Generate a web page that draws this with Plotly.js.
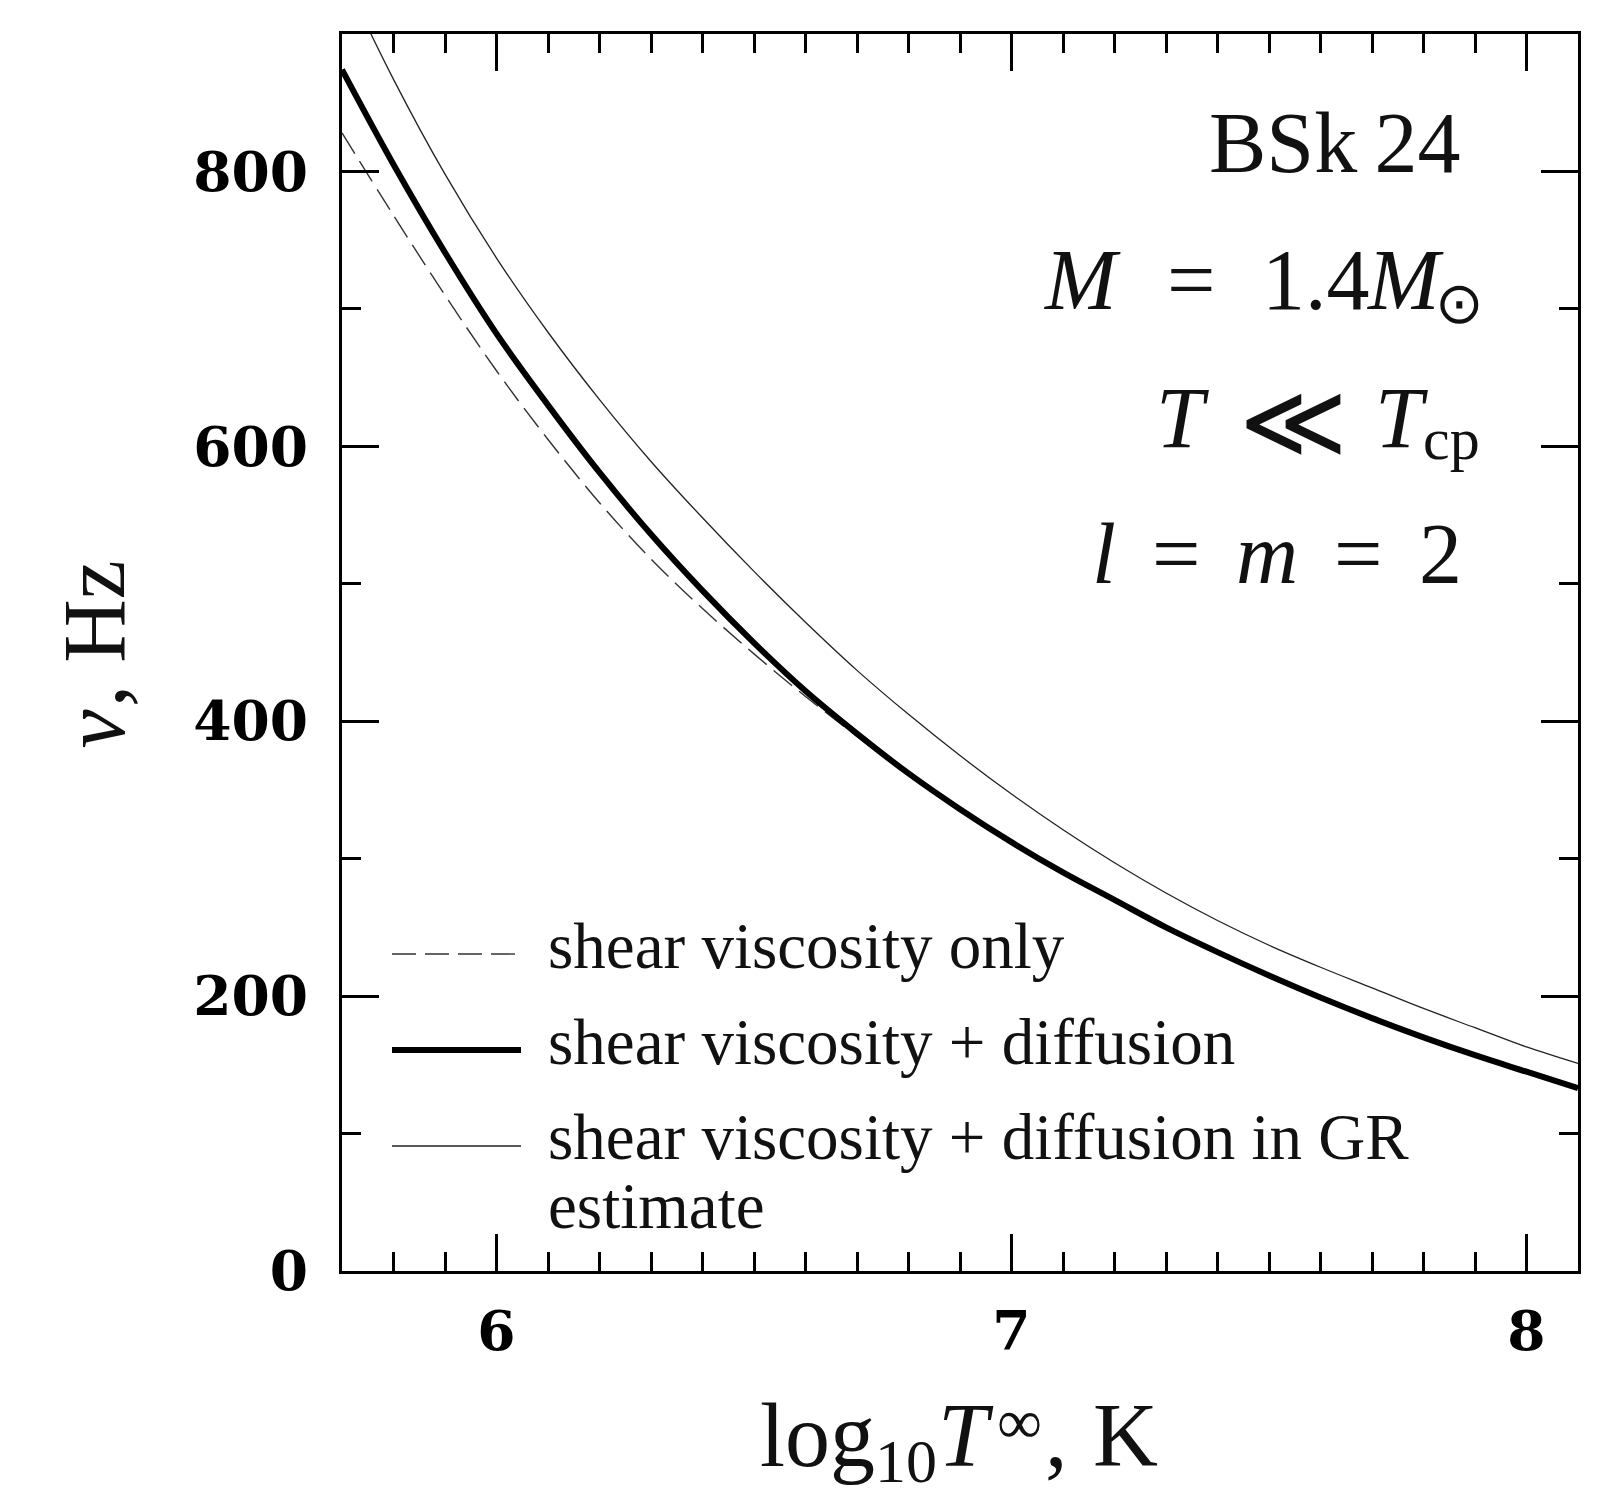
<!DOCTYPE html>
<html><head><meta charset="utf-8">
<script src="https://cdn.plot.ly/plotly-3.0.1.min.js"></script>
<style>body{margin:0;background:#fff}#chart{width:1603px;height:1494px}</style>
</head><body><div id="chart"></div>
<script>
// ---- data ----
const logT = [5.7,5.8,5.9,6.0,6.1,6.2,6.3,6.4,6.5,6.6,6.7,6.8,6.9,7.0,7.1,7.2,7.3,7.4,7.5,7.6,7.7,7.8,7.9,8.0,8.1];
const nuShearOnly = [828,768,710,655,605,559,518,482,449,418,389,361,336,312,290,270,250,232,215,199,184,170,157,145,133];
const nuShearDiff = [874,805,741,682,630,581,536,495,457,422,391,362,336,312,290,270,250,232,215,199,184,170,157,145,133];
const nuShearDiffGR = [944,867,798,737,683,634,589,548,509,472,437,405,375,347,321,297,275,255,237,221,206,191,177,163,151];
const seriesNames = ['shear viscosity only','shear viscosity + diffusion','shear viscosity + diffusion in GR<br>estimate'];
const xTickVals = [6,7,8];
const xTickText = ['6','7','8'];
const yTickVals = [0,200,400,600,800];
const yTickText = ['0','200','400','600','800'];
// text pieces (math written as runs of roman / italic / sub / sup)
const infoTitle = 'BSk\u200924';
const lineM = ['M','=','1.4','M','⊙'];
const lineT = ['T','≪','T','cp'];
const lineL = ['l','=','m','=','2'];
const xTitle = ['log','10','T','∞',',','K'];
const yTitle = ['ν',',','Hz'];

// ---- geometry helpers (pixel -> paper) ----
const L=342, R=1578, T=34, B=1271;
const px = v => (v-L)/(R-L);
const py = v => (B-v)/(B-T);
const serif = 'Liberation Serif, Times New Roman, serif';
const ink = '#111';
const K = 0.3375; // box centre above baseline, in em

const cvs = document.createElement('canvas').getContext('2d');
function textW(t, size, italic){
  cvs.font = (italic?'italic ':'') + size + 'px "Liberation Serif", serif';
  return cvs.measureText(t).width;
}
const annotations = [];
// pieces placed horizontally; fmt: {it, s, dy, g}
function runH(texts, fmts, anchorX, align, baseline){
  const ws = texts.map((t,i)=>textW(t, fmts[i].s, fmts[i].it));
  const total = ws.reduce((a,w,i)=>a+w+(fmts[i].g||0), 0);
  let x = align==='right' ? anchorX-total : anchorX-total/2;
  texts.forEach((t,i)=>{
    const f = fmts[i];
    x += (f.g||0);
    const cx = x + ws[i]/2;
    const cy = baseline + (f.dy||0) - K*f.s;
    annotations.push({xref:'paper', yref:'paper', x:px(cx), y:py(cy), xanchor:'center', yanchor:'middle',
      text:t, showarrow:false, borderpad:0, borderwidth:0,
      font:{family:serif, size:f.s, color:ink, style:f.it?'italic':'normal'}});
    x += ws[i];
  });
}
// pieces placed vertically (text rotated -90), running upward from the centre
function runV(texts, fmts, baselineX, centerY){
  const ws = texts.map((t,i)=>textW(t, fmts[i].s, fmts[i].it));
  const total = ws.reduce((a,w,i)=>a+w+(fmts[i].g||0), 0);
  let y = centerY + total/2;
  texts.forEach((t,i)=>{
    const f = fmts[i];
    y -= (f.g||0);
    const cy = y - ws[i]/2;
    const cx = baselineX - K*f.s;
    annotations.push({xref:'paper', yref:'paper', x:px(cx), y:py(cy), xanchor:'center', yanchor:'middle',
      text:t, showarrow:false, borderpad:0, borderwidth:0, textangle:-90,
      font:{family:serif, size:f.s, color:ink, style:f.it?'italic':'normal'}});
    y -= ws[i];
  });
}

const styles = [
  {color:'#333', width:1.4, dash:'24px,9px'},
  {color:'#000', width:6, dash:'solid'},
  {color:'#222', width:1.3, dash:'solid'}
];
const ys = [nuShearOnly, nuShearDiff, nuShearDiffGR];
const traces = ys.map((y,i)=>({
  type:'scatter', mode:'lines', x:logT, y:y, name:seriesNames[i].replace('<br>',' '),
  line:{color:styles[i].color, width:styles[i].width, dash:styles[i].dash, shape:'spline', smoothing:1},
  showlegend:false, hoverinfo:'skip'
}));

// legend drawn inside plot area
const legY = [954, 1050, 1146];
const legTextY = [946, 1042, 1137];
const shapes = [];
legY.forEach((yy,i)=>{
  shapes.push({type:'line', xref:'paper', yref:'paper', x0:px(392), x1:px(521), y0:py(yy), y1:py(yy),
    line:{color:styles[i].color, width:styles[i].width, dash:styles[i].dash}});
});
seriesNames.forEach((s,i)=>{
  s.split('<br>').forEach((p,j)=>{
    annotations.push({xref:'paper', yref:'paper', x:px(546), y:py(legTextY[i]+j*69), xanchor:'left', yanchor:'middle',
      text:p, showarrow:false, font:{family:serif, size:65, color:ink}});
  });
});

// info block (top right)
const S = 86;
annotations.push({xref:'paper', yref:'paper', x:px(1462), y:py(172-K*S), xanchor:'right', yanchor:'middle',
  text:infoTitle, showarrow:false, font:{family:serif, size:S, color:ink}});
runH(lineM, [{it:1,s:S},{s:S,g:50},{s:S,g:46},{it:1,s:S,g:0},{s:58,g:-6,dy:14}], 1484, 'right', 309);
runH(lineT, [{it:1,s:S},{s:104,g:32,dy:10},{it:1,s:S,g:30},{s:60,g:-2,dy:12}], 1480, 'right', 447);
runH(lineL, [{it:1,s:S},{s:S,g:36},{it:1,s:S,g:36},{s:S,g:36},{s:S,g:36}], 1462, 'right', 583);

// axis titles
runH(xTitle, [{s:90},{s:62,dy:16},{it:1,s:90,g:4},{s:63,g:6,dy:-23},{s:90,g:4},{s:90,g:25}], 959, 'center', 1466);
runV(yTitle, [{it:1,s:88},{s:88,g:2},{s:88,g:22}], 124, 654);

const tickFont = {family:'DejaVu Serif, serif', size:55, color:'#000', weight:700};
const layout = {
  width:1603, height:1494,
  margin:{l:L, r:1603-R, t:T, b:1494-B, pad:0},
  paper_bgcolor:'#fff', plot_bgcolor:'#fff',
  showlegend:false,
  xaxis:{
    range:[5.7,8.1], tickmode:'array', tickvals:xTickVals, ticktext:xTickText,
    ticks:'inside', ticklen:37, tickwidth:3, tickcolor:'#000',
    minor:{dtick:0.1, ticks:'inside', ticklen:19, tickwidth:3, tickcolor:'#000', showgrid:false},
    showline:true, linewidth:3, linecolor:'#000', mirror:'allticks',
    showgrid:false, zeroline:false, tickfont:tickFont, ticklabelstandoff:10
  },
  yaxis:{
    range:[0,900], tickmode:'array', tickvals:yTickVals, ticktext:yTickText,
    ticks:'inside', ticklen:37, tickwidth:3, tickcolor:'#000',
    minor:{dtick:100, tick0:0, ticks:'inside', ticklen:19, tickwidth:3, tickcolor:'#000', showgrid:false},
    showline:true, linewidth:3, linecolor:'#000', mirror:'allticks',
    showgrid:false, zeroline:false, tickfont:tickFont, ticklabelstandoff:20
  },
  shapes:shapes, annotations:annotations
};
Plotly.newPlot('chart', traces, layout, {staticPlot:true, displayModeBar:false});
</script>
</body></html>
